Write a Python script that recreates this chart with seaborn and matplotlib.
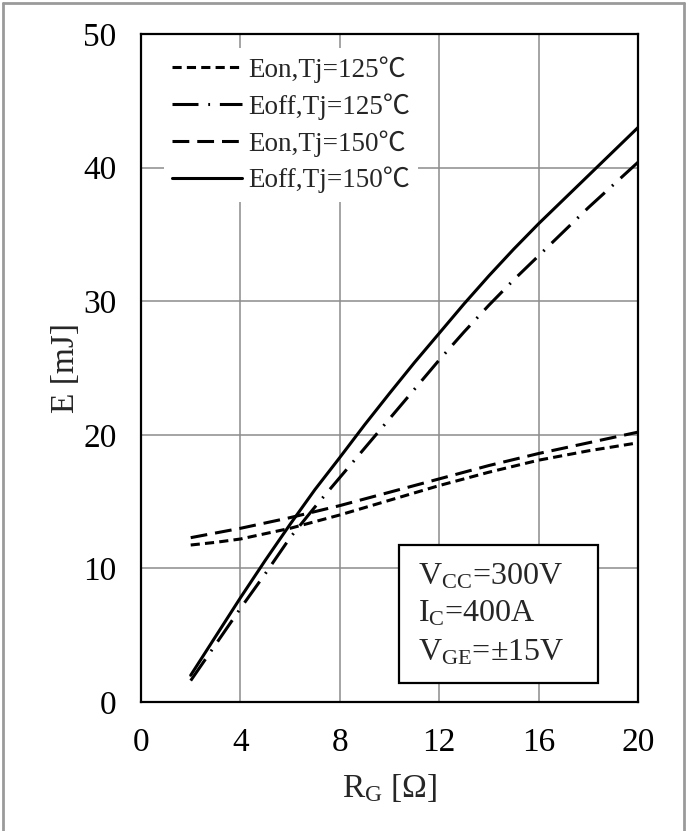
import matplotlib
matplotlib.use("Agg")
import matplotlib.pyplot as plt
import seaborn as sns
import pandas as pd
from matplotlib.patches import Rectangle
from matplotlib.lines import Line2D

# Gate resistance sweep [Ohm]
rg = [2, 3, 4, 5, 6, 7, 8, 9, 10, 11, 12, 13, 14, 15, 16, 17, 18, 19, 20]

# Switching energies [mJ]
eon_125 = [11.75, 11.95, 12.2, 12.6, 13.0, 13.5, 14.0, 14.55, 15.1, 15.65,
           16.2, 16.7, 17.2, 17.65, 18.1, 18.45, 18.8, 19.1, 19.4]
eoff_125 = [1.6, 4.3, 7.0, 9.6, 12.3, 14.6, 16.8, 19.0, 21.2, 23.4,
            25.6, 27.7, 29.7, 31.6, 33.4, 35.2, 37.0, 38.7, 40.4]
eon_150 = [12.3, 12.65, 13.0, 13.4, 13.8, 14.25, 14.7, 15.2, 15.7, 16.2,
           16.7, 17.2, 17.7, 18.15, 18.6, 19.0, 19.4, 19.8, 20.2]
eoff_150 = [2.0, 4.9, 7.8, 10.6, 13.3, 15.9, 18.3, 20.75, 23.1, 25.4,
            27.6, 29.8, 31.9, 33.9, 35.8, 37.6, 39.4, 41.2, 43.0]

series_names = ["Eon,Tj=125\u2103", "Eoff,Tj=125\u2103", "Eon,Tj=150\u2103", "Eoff,Tj=150\u2103"]
series_values = [eon_125, eoff_125, eon_150, eoff_150]

x_ticks = [0, 4, 8, 12, 16, 20]
y_ticks = [0, 10, 20, 30, 40, 50]

sns.set_theme(style="white")
plt.rcParams["font.family"] = ["Liberation Serif", "Noto Sans CJK JP", "DejaVu Serif"]
plt.rcParams["mathtext.fontset"] = "custom"
plt.rcParams["mathtext.rm"] = "Liberation Serif"
plt.rcParams["mathtext.it"] = "Liberation Serif"

LW = 2.2
dash_styles = [
    (3.0, 1.7),            # short dashes
    (8.5, 3.2, 0.6, 3.2),  # dash-dot
    (5.5, 2.6),            # long dashes
    None,                  # solid
]

fig = plt.figure(figsize=(6.94, 8.31), dpi=100)
ax = fig.add_axes([141 / 694, 1 - 702 / 831, 497 / 694, 668 / 831])

df = pd.DataFrame({"RG": rg})
for name, vals in zip(series_names, series_values):
    df[name] = vals

handles = []
for name, dash in zip(series_names, dash_styles):
    sns.lineplot(data=df, x="RG", y=name, ax=ax, color="black", linewidth=LW,
                 legend=False)
    line = ax.lines[-1]
    if dash is not None:
        line.set_dashes(dash)
    line.set_dash_capstyle("butt")
    h = Line2D([], [], color="black", linewidth=LW)
    if dash is not None:
        h.set_dashes(dash)
    handles.append(h)

ax.set_xlim(0, 20)
ax.set_ylim(0, 50)
ax.set_xticks(x_ticks)
ax.set_yticks(y_ticks)
ax.grid(True, color="#8c8c8c", linewidth=1.1)
ax.set_axisbelow(True)
for sp in ax.spines.values():
    sp.set_color("black")
    sp.set_linewidth(1.6)
ax.tick_params(axis="both", direction="out", length=6.5, width=1.4,
               color="black", labelsize=24, labelcolor="black")
ax.tick_params(axis="x", pad=12)
ax.tick_params(axis="y", pad=11)

ax.set_xlabel("R$_\\mathregular{G}$ [\u03a9]", fontsize=24, labelpad=10)
ax.set_ylabel("E [mJ]", fontsize=24, labelpad=2)

leg = ax.legend(handles, series_names, loc="upper left",
                bbox_to_anchor=(0.046, 0.979), fontsize=19.5, frameon=True,
                handlelength=2.6, handletextpad=0.2, labelspacing=0.38,
                borderpad=0.3, borderaxespad=0.0)
leg.get_frame().set_facecolor("white")
leg.get_frame().set_edgecolor("none")
leg.get_frame().set_alpha(1.0)

# Test condition box
ax.add_patch(Rectangle((10.38, 1.42), 8.0, 10.33, facecolor="white",
                       edgecolor="black", linewidth=1.6, zorder=5))
cond = ["V$_\\mathregular{CC}$=300V", "I$_\\mathregular{C}$=400A",
        "V$_\\mathregular{GE}$=\u00b115V"]
cond_y = [8.76, 6.0, 3.14]
for t, yy in zip(cond, cond_y):
    ax.text(11.15, yy, t, fontsize=23, va="baseline", ha="left", zorder=6)

# Outer frame
fig.add_artist(Line2D([3 / 694, 3 / 694], [0, 1 - 3 / 831], color="#9a9a9a",
                      linewidth=2, transform=fig.transFigure))
fig.add_artist(Line2D([3 / 694, 684 / 694], [1 - 3 / 831, 1 - 3 / 831],
                      color="#9a9a9a", linewidth=2, transform=fig.transFigure))
fig.add_artist(Line2D([684 / 694, 684 / 694], [0, 1 - 3 / 831], color="#9a9a9a",
                      linewidth=2, transform=fig.transFigure))

fig.savefig("out.png", dpi=100)
